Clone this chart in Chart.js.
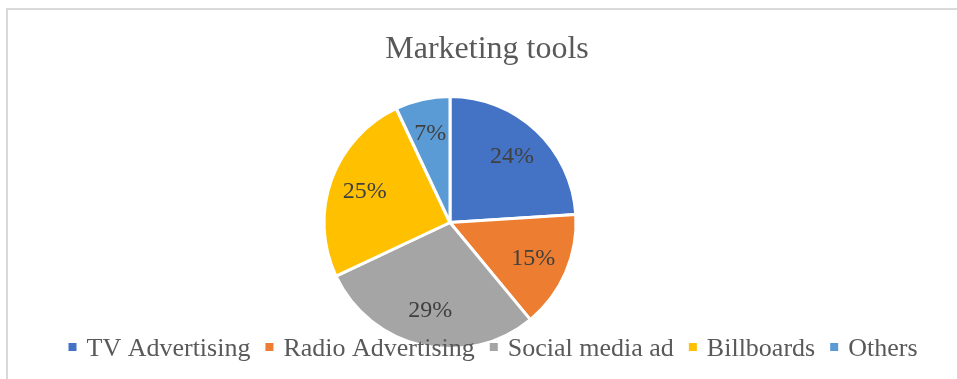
<!DOCTYPE html>
<html>
<head>
<meta charset="utf-8">
<script src="https://cdn.jsdelivr.net/npm/chart.js@4.4.0/dist/chart.umd.min.js"></script>
<style>
  html, body { margin: 0; padding: 0; background: #ffffff; }
  #wrap { position: relative; width: 957px; height: 379px; }
  canvas { display: block; }
</style>
</head>
<body>
<div id="wrap"><canvas id="c" width="957" height="379"></canvas></div>
<script>
const chartTitle = 'Marketing tools';
const categories = ['TV Advertising', 'Radio Advertising', 'Social media ad', 'Billboards', 'Others'];
const shares = [24, 15, 29, 25, 7];
const sliceColors = ['#4472C4', '#ED7D31', '#A5A5A5', '#FFC000', '#5B9BD5'];

const SERIF = '"Liberation Serif", "Times New Roman", Times, serif';

const decorPlugin = {
  id: 'decor',
  afterDraw(chart) {
    const ctx = chart.ctx;
    const W = chart.width;
    const H = chart.height;
    ctx.save();
    // frame
    ctx.strokeStyle = '#D9D9D9';
    ctx.lineWidth = 2;
    ctx.beginPath();
    ctx.moveTo(7, H);
    ctx.lineTo(7, 9);
    ctx.lineTo(W, 9);
    ctx.stroke();

    // title
    ctx.fillStyle = '#595959';
    ctx.font = '32px ' + SERIF;
    ctx.textAlign = 'center';
    ctx.textBaseline = 'alphabetic';
    ctx.fillText(chartTitle, 487, 58);

    // data labels
    const meta = chart.getDatasetMeta(0);
    const total = shares.reduce((a, b) => a + b, 0);
    ctx.font = '24px ' + SERIF;
    ctx.fillStyle = '#404040';
    ctx.textBaseline = 'middle';
    meta.data.forEach((arc, i) => {
      const p = arc.getProps(['x', 'y', 'startAngle', 'endAngle', 'outerRadius'], true);
      const mid = (p.startAngle + p.endAngle) / 2;
      const r = p.outerRadius * 0.72;
      const x = p.x + Math.cos(mid) * r;
      const y = p.y + Math.sin(mid) * r;
      ctx.fillText(Math.round(shares[i] / total * 100) + '%', x, y);
    });

    // legend
    ctx.font = '26px ' + SERIF;
    ctx.textAlign = 'left';
    ctx.textBaseline = 'alphabetic';
    const box = 8, gapBox = 10, gapItem = 15;
    const widths = categories.map(c => ctx.measureText(c).width);
    let totalW = 0;
    widths.forEach((w, i) => { totalW += box + gapBox + w + (i < widths.length - 1 ? gapItem : 0); });
    let x = 493 - totalW / 2;
    const base = 356;
    categories.forEach((c, i) => {
      ctx.fillStyle = sliceColors[i];
      ctx.fillRect(x, base - 13, box, box);
      ctx.fillStyle = '#595959';
      ctx.fillText(c, x + box + gapBox, base);
      x += box + gapBox + widths[i] + gapItem;
    });
    ctx.restore();
  }
};

new Chart(document.getElementById('c'), {
  type: 'pie',
  data: {
    labels: categories,
    datasets: [{
      data: shares,
      backgroundColor: sliceColors,
      borderColor: '#FFFFFF',
      borderWidth: 3
    }]
  },
  options: {
    responsive: false,
    animation: false,
    radius: 126,
    layout: { padding: { top: 70, bottom: 4, left: 0, right: 57 } },
    plugins: {
      legend: { display: false },
      title: { display: false },
      tooltip: { enabled: false }
    }
  },
  plugins: [decorPlugin]
});
</script>
</body>
</html>
